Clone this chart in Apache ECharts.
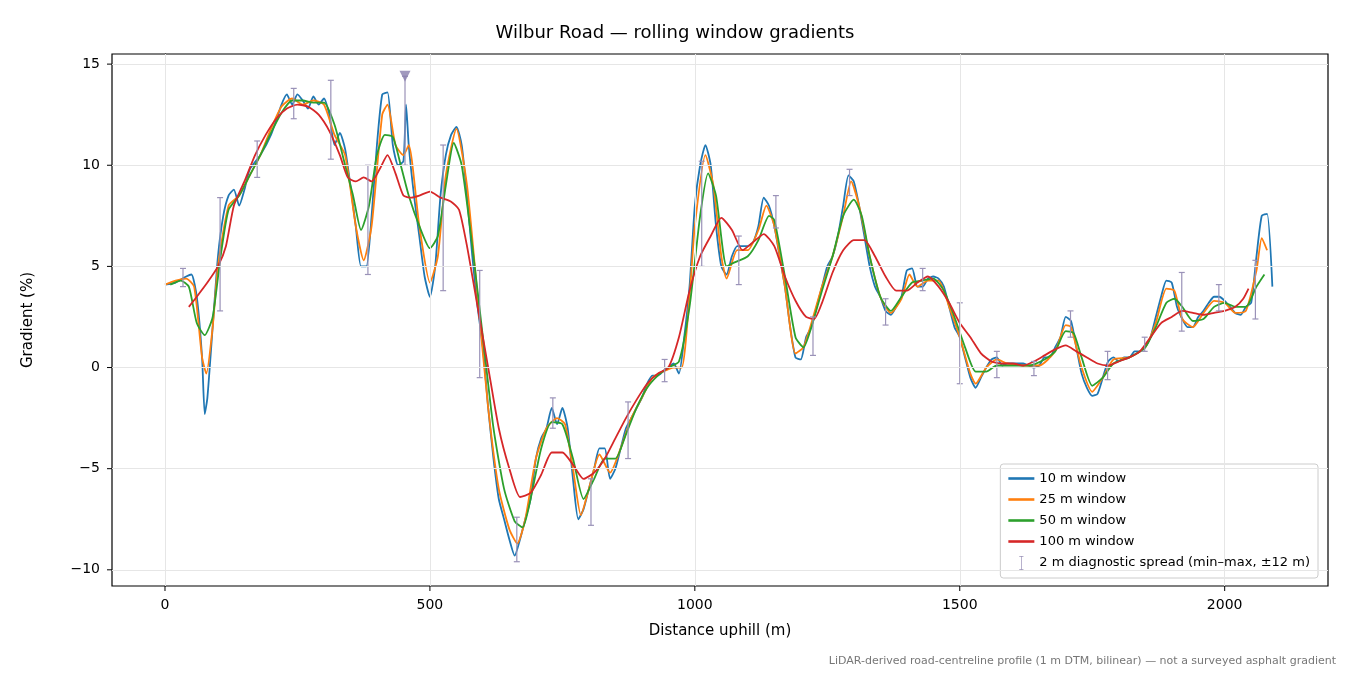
<!DOCTYPE html>
<html><head><meta charset="utf-8">
<script src="https://cdn.jsdelivr.net/npm/echarts@6/dist/echarts.min.js"></script>
<style>html,body{margin:0;padding:0;background:#fff}#c{width:1350px;height:675px}</style>
</head><body><div id="c"></div>
<script>
const xTicks=[0,500,1000,1500,2000];
const yTicks=[-10,-5,0,5,10,15];
const w10=[[0,4.1],[20,4.2],[40,4.5],[50,4.6],[60,3.5],[70,0.5],[75,-2.3],[80,-1.5],[90,2],[100,5.5],[110,7.5],[120,8.5],[130,8.8],[140,8.0],[150,8.8],[160,9.8],[180,10.5],[200,11.5],[220,13.0],[230,13.5],[240,13.0],[250,13.5],[260,13.2],[270,12.8],[280,13.4],[290,13.0],[300,13.3],[310,12.5],[320,11.0],[330,11.6],[340,10.8],[350,9.0],[360,7.0],[370,5.0],[380,5.0],[390,7.5],[400,11.0],[410,13.5],[420,13.6],[430,11.0],[440,10.0],[450,10.2],[455,13],[460,11.0],[470,8.5],[480,6.5],[490,4.5],[500,3.5],[510,5.0],[520,8.5],[530,10.5],[540,11.5],[550,11.9],[560,11.0],[570,8.5],[580,5.5],[590,3.0],[600,1.0],[610,-2],[620,-4.5],[630,-6.5],[640,-7.5],[650,-8.5],[660,-9.3],[670,-8.5],[680,-7.5],[690,-6.5],[700,-4.5],[710,-3.5],[720,-3.0],[730,-2.0],[740,-2.8],[750,-2.0],[760,-3.0],[770,-5.5],[780,-7.5],[790,-7.0],[800,-6.0],[810,-5.0],[820,-4.0],[830,-4.0],[840,-5.5],[850,-5.0],[860,-4.0],[870,-3.0],[880,-2.5],[890,-2.0],[900,-1.5],[910,-0.8],[920,-0.4],[930,-0.4],[940,-0.2],[950,0],[960,0.2],[970,-0.3],[980,1.5],[990,4],[1000,8],[1010,10],[1020,11],[1030,10],[1040,7],[1050,5],[1060,4.6],[1070,5.5],[1080,6],[1090,6],[1100,6],[1110,6.2],[1120,7],[1130,8.4],[1140,8],[1150,7],[1160,5.5],[1170,4],[1180,2],[1190,0.5],[1200,0.4],[1210,1.5],[1220,2],[1230,3],[1240,4],[1250,5],[1260,5.5],[1270,6.5],[1280,8],[1290,9.5],[1300,9.2],[1310,8],[1320,6.5],[1330,5],[1340,4],[1350,3.5],[1360,2.8],[1370,2.6],[1380,3],[1390,3.5],[1400,4.8],[1410,4.9],[1420,4.0],[1430,4.0],[1440,4.4],[1450,4.5],[1460,4.4],[1470,4.0],[1480,3.0],[1490,2.0],[1500,1.5],[1510,0.5],[1520,-0.5],[1530,-1.0],[1540,-0.5],[1550,0],[1560,0.4],[1570,0.5],[1580,0.1],[1590,0.2],[1600,0.2],[1610,0.2],[1620,0.2],[1630,0.1],[1640,0],[1650,0.1],[1660,0.5],[1670,0.5],[1680,1.0],[1690,1.5],[1700,2.5],[1710,2.3],[1720,1.0],[1730,-0.3],[1740,-1.0],[1750,-1.4],[1760,-1.3],[1770,-0.5],[1780,0.3],[1790,0.5],[1800,0.3],[1810,0.5],[1820,0.5],[1830,0.8],[1840,0.8],[1850,1.0],[1860,1.5],[1870,2.5],[1880,3.5],[1890,4.3],[1900,4.2],[1910,3.0],[1920,2.4],[1930,2.0],[1940,2.0],[1950,2.5],[1960,2.8],[1970,3.2],[1980,3.5],[1990,3.5],[2000,3.3],[2010,3.0],[2020,2.7],[2030,2.6],[2040,3.0],[2050,3.2],[2060,5.5],[2070,7.5],[2080,7.6],[2090,4.0]];
const w25=[[0,4.1],[20,4.3],[40,4.4],[55,4],[70,0.5],[78,-0.3],[90,2],[100,5],[120,8],[140,8.5],[160,9.5],[180,10.5],[200,11.8],[220,12.9],[240,13.3],[260,13.0],[280,13.2],[300,13.0],[320,11.5],[340,10.5],[360,7],[375,5.3],[390,7],[410,12.5],[420,13],[435,11],[450,10.5],[460,11],[480,7],[500,4.2],[515,5.5],[530,9.5],[550,11.8],[570,9],[590,3.5],[610,-2],[630,-6],[650,-8],[665,-8.7],[680,-7.5],[700,-4.5],[720,-3],[740,-2.5],[755,-2.8],[770,-5],[785,-7.3],[800,-6],[820,-4.3],[840,-5.2],[860,-4],[880,-2.5],[900,-1.5],[920,-0.5],[940,-0.2],[960,0],[975,0],[990,3.5],[1000,7],[1020,10.5],[1035,9],[1050,5.5],[1060,4.4],[1080,5.8],[1100,5.8],[1120,6.8],[1135,8.0],[1150,7],[1170,4],[1190,0.7],[1205,1],[1220,2.2],[1240,4],[1260,5.5],[1280,7.5],[1295,9.2],[1310,8],[1330,5.5],[1350,3.5],[1370,2.7],[1390,3.4],[1405,4.6],[1420,4],[1440,4.3],[1460,4.3],[1480,3],[1500,1.5],[1520,-0.3],[1530,-0.8],[1550,0],[1570,0.4],[1590,0.2],[1620,0.1],[1650,0.1],[1680,0.8],[1700,2.1],[1710,2],[1730,0],[1750,-1.2],[1770,-0.5],[1790,0.4],[1820,0.5],[1850,1],[1870,2.2],[1890,3.9],[1905,3.8],[1920,2.4],[1940,2.0],[1960,2.7],[1980,3.3],[2000,3.2],[2020,2.7],[2040,2.8],[2060,4.8],[2070,6.4],[2080,5.8]];
const w50=[[10,4.1],[30,4.3],[45,4],[60,2.2],[75,1.6],[90,2.5],[105,5.5],[120,7.8],[140,8.5],[160,9.5],[180,10.5],[200,11.6],[220,12.6],[240,13.2],[260,13.2],[280,13.1],[300,13.1],[320,12],[340,10],[355,8.5],[370,6.8],[385,8],[400,10.5],[415,11.5],[430,11.4],[445,10],[460,8.5],[480,7],[500,5.9],[515,6.5],[530,9],[545,11.1],[560,10],[580,6],[600,1.5],[620,-3],[640,-6],[660,-7.6],[675,-7.9],[690,-6.5],[710,-4],[730,-2.7],[750,-2.8],[770,-4.5],[790,-6.5],[810,-5.5],[830,-4.5],[850,-4.5],[870,-3.3],[890,-2],[910,-1],[930,-0.4],[950,0],[970,0.3],[990,3],[1010,7.5],[1025,9.6],[1040,8.5],[1060,5],[1075,5.2],[1100,5.5],[1120,6.3],[1140,7.5],[1150,7.3],[1170,4.5],[1190,1.5],[1205,1],[1220,2],[1240,3.8],[1260,5.5],[1280,7.5],[1300,8.3],[1315,7.5],[1330,5.5],[1350,3.5],[1370,2.8],[1390,3.5],[1410,4.2],[1430,4.3],[1450,4.4],[1470,3.8],[1490,2.5],[1510,1],[1530,-0.2],[1550,-0.2],[1570,0.1],[1600,0.1],[1630,0.1],[1660,0.4],[1680,0.8],[1700,1.8],[1715,1.7],[1730,0.5],[1750,-0.9],[1770,-0.5],[1790,0.2],[1820,0.5],[1850,1],[1870,2],[1890,3.2],[1905,3.4],[1920,3],[1940,2.3],[1960,2.4],[1980,3],[2000,3.2],[2020,3],[2040,3],[2060,4],[2075,4.6]];
const w100=[[45,3],[60,3.5],[80,4.2],[100,5],[115,6],[130,8],[150,9.2],[170,10.5],[190,11.5],[210,12.3],[230,12.8],[250,13],[270,12.9],[290,12.5],[310,11.7],[330,10.5],[345,9.4],[360,9.2],[375,9.4],[390,9.2],[405,9.8],[420,10.5],[435,9.6],[450,8.5],[465,8.4],[480,8.5],[500,8.7],[520,8.4],[540,8.2],[555,7.8],[570,6],[590,3],[610,0],[630,-3],[650,-5],[670,-6.4],[690,-6.2],[710,-5.3],[730,-4.2],[750,-4.2],[770,-4.8],[790,-5.5],[810,-5.2],[830,-4.5],[850,-3.5],[870,-2.5],[890,-1.6],[910,-0.8],[930,-0.3],[950,0],[970,1.5],[990,3.8],[1010,5.5],[1030,6.5],[1050,7.4],[1070,6.8],[1090,5.8],[1110,6.2],[1130,6.6],[1150,6.0],[1170,4.5],[1190,3.3],[1210,2.5],[1225,2.4],[1240,3.2],[1260,4.7],[1280,5.8],[1300,6.3],[1320,6.3],[1340,5.5],[1360,4.5],[1380,3.8],[1400,3.8],[1420,4.2],[1440,4.5],[1460,4.0],[1480,3.2],[1500,2.2],[1520,1.5],[1540,0.7],[1560,0.3],[1580,0.2],[1600,0.2],[1620,0.1],[1640,0.3],[1660,0.6],[1680,0.9],[1700,1.1],[1720,0.8],[1740,0.5],[1760,0.2],[1780,0.1],[1800,0.3],[1820,0.5],[1840,0.8],[1860,1.5],[1880,2.2],[1900,2.5],[1920,2.8],[1940,2.7],[1960,2.6],[1980,2.7],[2000,2.8],[2020,3],[2035,3.4],[2045,3.9]];
// [x, min, max]
const spread=[[34,4.0,4.9],[104,2.8,8.4],[174,9.4,11.2],[243,12.3,13.8],[313,10.3,14.2],[383,4.6,10.0],[453,10.0,14.4],[525,3.8,11.0],[594,-0.5,4.8],[664,-9.6,-7.4],[732,-3.0,-1.5],[804,-7.8,-5.5],[874,-4.5,-1.7],[943,-0.7,0.4],[1013,5.0,10.2],[1083,4.1,6.5],[1153,6.9,8.5],[1223,0.6,2.5],[1292,8.5,9.8],[1360,2.1,3.4],[1430,3.8,4.9],[1500,-0.8,3.2],[1570,-0.5,0.8],[1640,-0.4,0.3],[1709,1.5,2.8],[1779,-0.6,0.8],[1849,0.8,1.5],[1919,1.8,4.7],[1989,2.8,4.1],[2058,2.4,5.3]];
const clipped=[[453,14.4]];

const ec='#9a92b8';
const XMIN=-100,YMIN=-10.8;
const chart=echarts.init(document.getElementById('c'));
const lineIcon='path://M0,0H24V2.4H0Z';
const line=(name,data,color)=>({name,type:'line',data,showSymbol:false,symbol:'none',smooth:0.2,lineStyle:{color,width:1.8},itemStyle:{color},z:3});
const gl=(vals,axis)=>vals.map(v=>axis==='x'?{xAxis:v}:{yAxis:v});
const fmt=v=>v<0?'−'+Math.abs(v):''+v;
chart.setOption({
  animation:false,
  title:{text:'Wilbur Road — rolling window gradients',left:'center',top:19,textStyle:{fontFamily:'DejaVu Sans',fontSize:18,fontWeight:'normal',color:'#000'}},
  grid:{left:112,right:22,top:54,bottom:89,show:true,borderColor:'#000',borderWidth:1.2,backgroundColor:'transparent'},
  xAxis:{type:'value',min:XMIN,max:2195,name:'Distance uphill (m)',nameLocation:'middle',nameGap:38,nameTextStyle:{fontFamily:'DejaVu Sans',fontSize:15,color:'#000'},
    axisLine:{lineStyle:{color:'#000'}},axisTick:{show:false},
    axisLabel:{customValues:xTicks,fontFamily:'DejaVu Sans',fontSize:14,color:'#000',margin:12,formatter:fmt},splitLine:{show:false}},
  yAxis:{type:'value',min:YMIN,max:15.5,name:'Gradient (%)',nameLocation:'middle',nameGap:76,nameTextStyle:{fontFamily:'DejaVu Sans',fontSize:15,color:'#000'},
    axisLine:{show:true,lineStyle:{color:'#000'}},axisTick:{show:false},
    axisLabel:{customValues:yTicks,fontFamily:'DejaVu Sans',fontSize:14,color:'#000',margin:12,formatter:fmt},splitLine:{show:false}},
  legend:{orient:'vertical',right:32,bottom:97,itemWidth:26,itemHeight:14,itemGap:8,backgroundColor:'#fff',borderColor:'#ccc',borderWidth:1,borderRadius:3,padding:[8,8,8,8],
    textStyle:{fontFamily:'DejaVu Sans',fontSize:13,color:'#000'},
    data:[{name:'10 m window',icon:lineIcon},{name:'25 m window',icon:lineIcon},{name:'50 m window',icon:lineIcon},{name:'100 m window',icon:lineIcon},{name:'2 m diagnostic spread (min–max, ±12 m)',icon:'path://M0,0H6V1H3.5V19H6V20H0V19H2.5V1H0Z'}]},
  series:[
    {type:'line',data:[],silent:true,markLine:{silent:true,symbol:'none',label:{show:false},lineStyle:{color:'#e6e6e6',width:1,type:'solid'},data:gl(xTicks,'x').concat(gl(yTicks,'y'))},z:1},
    {type:'custom',silent:true,clip:false,data:xTicks.map(v=>[v,0]),z:6,
      renderItem:(p,api)=>{const c=api.coord([api.value(0),YMIN]);return {type:'line',shape:{x1:c[0],y1:c[1],x2:c[0],y2:c[1]+5},style:{stroke:'#000',lineWidth:1}};}},
    {type:'custom',silent:true,clip:false,data:yTicks.map(v=>[v,0]),z:6,
      renderItem:(p,api)=>{const c=api.coord([XMIN,api.value(0)]);return {type:'line',shape:{x1:c[0]-5,y1:c[1],x2:c[0],y2:c[1]},style:{stroke:'#000',lineWidth:1}};}},
    line('10 m window',w10,'#1f77b4'),
    line('25 m window',w25,'#ff7f0e'),
    line('50 m window',w50,'#2ca02c'),
    line('100 m window',w100,'#d62728'),
    {name:'2 m diagnostic spread (min–max, ±12 m)',type:'custom',data:spread,itemStyle:{color:ec},z:4,
      renderItem:(p,api)=>{const a=api.coord([api.value(0),api.value(1)]),b=api.coord([api.value(0),api.value(2)]);
        const st={stroke:ec,lineWidth:1.2};
        return {type:'group',children:[
          {type:'line',shape:{x1:a[0],y1:a[1],x2:b[0],y2:b[1]},style:st},
          {type:'line',shape:{x1:a[0]-3,y1:a[1],x2:a[0]+3,y2:a[1]},style:st},
          {type:'line',shape:{x1:b[0]-3,y1:b[1],x2:b[0]+3,y2:b[1]},style:st}]};}},
    {type:'scatter',data:clipped,symbol:'triangle',symbolRotate:180,symbolSize:11,itemStyle:{color:'#8a7fae'},z:5,silent:true}
  ],
  graphic:[{type:'text',right:14,bottom:8,style:{text:'LiDAR-derived road-centreline profile (1 m DTM, bilinear) — not a surveyed asphalt gradient',fontFamily:'DejaVu Sans',fontSize:11,fill:'#777'}}]
});
</script></body></html>
